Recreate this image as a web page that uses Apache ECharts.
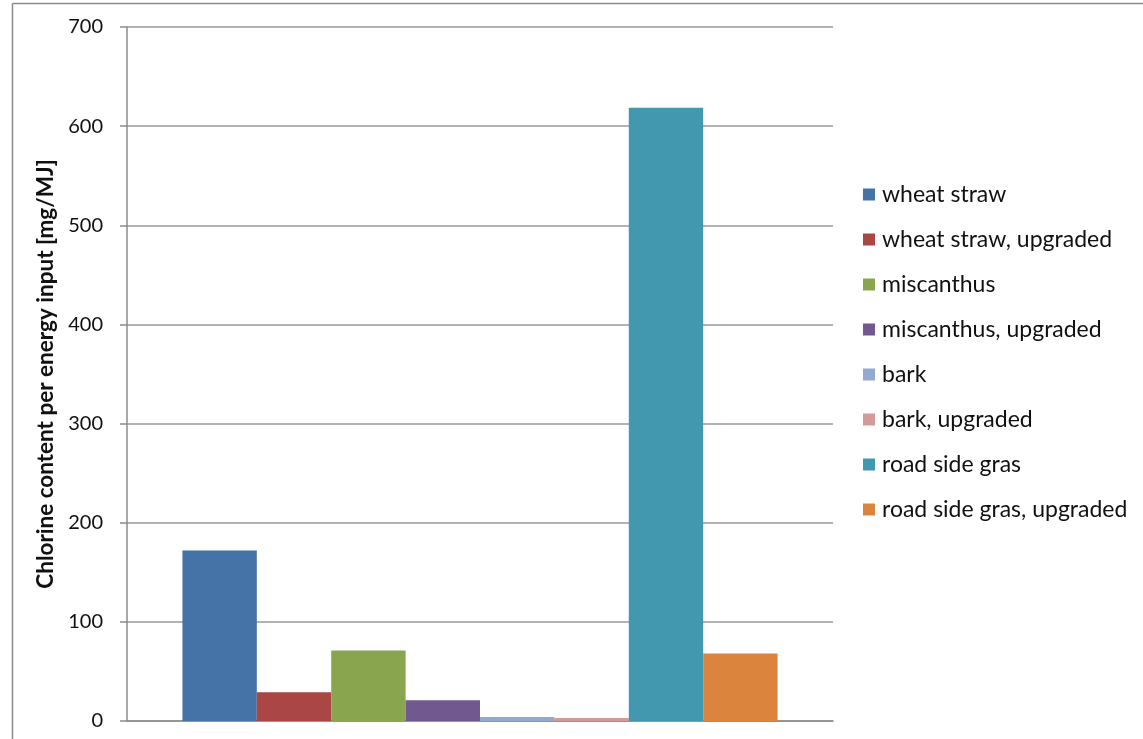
<!DOCTYPE html>
<html>
<head>
<meta charset="utf-8">
<script src="https://cdn.jsdelivr.net/npm/echarts@6/dist/echarts.min.js"></script>
<style>
  html, body { margin: 0; padding: 0; background: #fff; }
  #chart { width: 1143px; height: 739px; }
</style>
</head>
<body>
<div id="chart"></div>
<script>
// Chlorine content per energy input for each fuel (one category group)
const categories = [''];
const seriesNames = [
  'wheat straw',
  'wheat straw, upgraded',
  'miscanthus',
  'miscanthus, upgraded',
  'bark',
  'bark, upgraded',
  'road side gras',
  'road side gras, upgraded'
];
const seriesValues = [172, 29, 71, 21, 4, 3, 618.5, 68];
const seriesColors = ['#4572A7', '#AA4643', '#89A54E', '#71588F', '#93A9CF', '#D39A9A', '#4198AF', '#DB843D'];
const yTicks = [0, 100, 200, 300, 400, 500, 600, 700];

const FONT = 'Lato, "Open Sans", sans-serif';

const chart = echarts.init(document.getElementById('chart'), null, { renderer: 'canvas' });

const series = seriesNames.map((name, i) => ({
  name: name,
  type: 'bar',
  data: [seriesValues[i]],
  barGap: '0%',
  barCategoryGap: '15.7%',
  itemStyle: { color: seriesColors[i] },
  emphasis: { disabled: true }
}));

chart.setOption({
  animation: false,
  backgroundColor: '#ffffff',
  grid: { left: 127, right: 310, top: 27, bottom: 18, containLabel: false },
  legend: {
    orient: 'vertical',
    left: 858,
    top: 178,
    itemWidth: 12,
    itemHeight: 12,
    itemGap: 22,
    icon: 'rect',
    selectedMode: false,
    textStyle: { fontFamily: FONT, fontSize: 23, lineHeight: 23, color: '#111', padding: [0, 0, 0, 2] },
    data: seriesNames
  },
  xAxis: {
    type: 'category',
    data: categories,
    axisLine: { show: true, lineStyle: { color: '#8c8c8c', width: 1.5 } },
    axisTick: { show: false },
    axisLabel: { show: false }
  },
  yAxis: {
    type: 'value',
    min: yTicks[0],
    max: yTicks[yTicks.length - 1],
    interval: 100,
    name: 'Chlorine content per energy input [mg/MJ]',
    nameLocation: 'middle',
    nameGap: 69,
    nameTextStyle: { fontFamily: FONT, fontSize: 22.5, fontWeight: 'bold', color: '#111' },
    axisLine: { show: true, lineStyle: { color: '#8c8c8c', width: 1.5 } },
    axisTick: { show: true, inside: false, length: 7, lineStyle: { color: '#8c8c8c', width: 1.5 } },
    axisLabel: { fontFamily: FONT, fontSize: 20, color: '#111', margin: 24 },
    splitLine: { show: true, lineStyle: { color: '#9a9a9a', width: 1.5 } }
  },
  graphic: [
    { type: 'line', shape: { x1: 12.5, y1: 3.5, x2: 1143, y2: 3.5 }, style: { stroke: '#8a8a8a', lineWidth: 1.5 } },
    { type: 'line', shape: { x1: 12.5, y1: 3.5, x2: 12.5, y2: 739 }, style: { stroke: '#8a8a8a', lineWidth: 1.5 } }
  ],
  series: series
});
</script>
</body>
</html>
